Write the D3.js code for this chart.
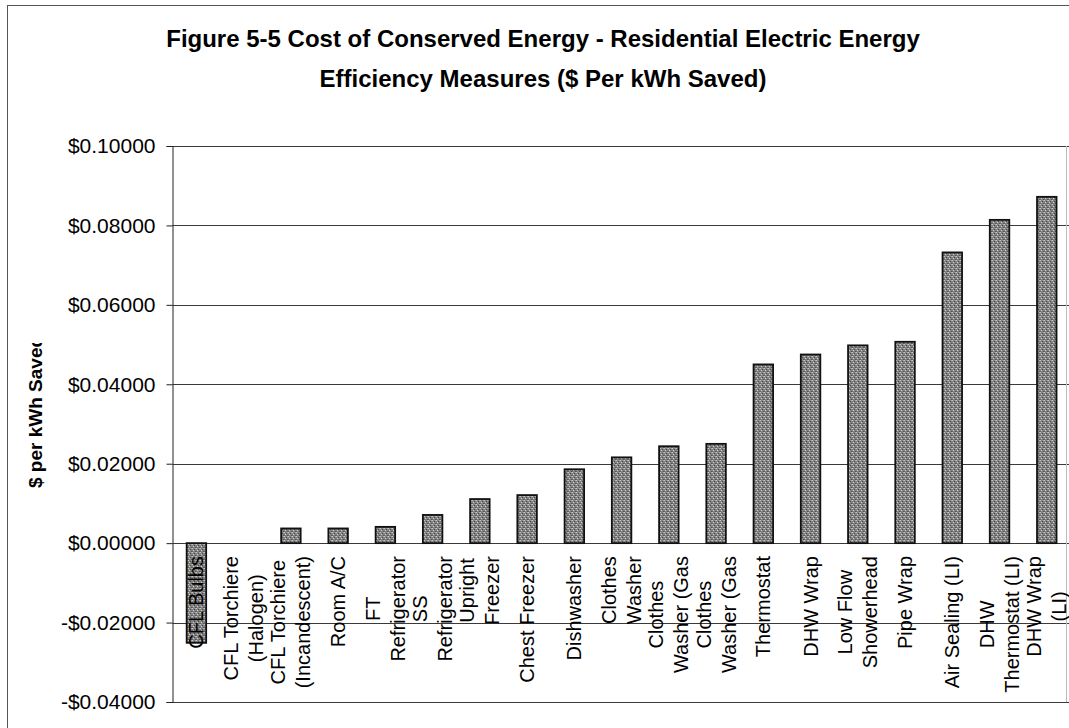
<!DOCTYPE html>
<html>
<head>
<meta charset="utf-8">
<script src="https://cdn.jsdelivr.net/npm/d3@7"></script>
<style>
  html, body { margin: 0; padding: 0; background: #fff; }
  svg { display: block; }
  text { font-family: "Liberation Sans", Arial, sans-serif; fill: #000; }
</style>
</head>
<body>
<svg id="chart" width="1069" height="728"></svg>
<script>
// Measures, each label split into the lines it wraps to
const categoryLines = [
  ["CFL Bulbs"],
  ["CFL Torchiere", "(Halogen)"],
  ["CFL Torchiere", "(Incandescent)"],
  ["Room A/C"],
  ["FT", "Refrigerator"],
  ["SS", "Refrigerator"],
  ["Upright", "Freezer"],
  ["Chest Freezer"],
  ["Dishwasher"],
  ["Clothes", "Washer"],
  ["Clothes", "Washer (Gas"],
  ["Clothes", "Washer (Gas"],
  ["Thermostat"],
  ["DHW Wrap"],
  ["Low Flow", "Showerhead"],
  ["Pipe Wrap"],
  ["Air Sealing (LI)"],
  ["DHW", "Thermostat (LI)"],
  ["DHW Wrap", "(LI)"]
];

// Cost of conserved energy, $ per kWh saved
const costPerKWh = [
  -0.0251, 0.0000, 0.0037, 0.0037, 0.0041, 0.0071, 0.0111, 0.0121, 0.0186,
  0.0216, 0.0244, 0.0250, 0.0450, 0.0475, 0.0498, 0.0507, 0.0732, 0.0814, 0.0872
];

const yTicks = [-0.04, -0.02, 0.00, 0.02, 0.04, 0.06, 0.08, 0.10];
const yTickLabels = ["-$0.04000", "-$0.02000", "$0.00000", "$0.02000", "$0.04000", "$0.06000", "$0.08000", "$0.10000"];

const titleLines = [
  "Figure 5-5 Cost of Conserved Energy - Residential Electric Energy",
  "Efficiency Measures ($ Per kWh Saved)"
];
const yAxisTitle = "$ per kWh Saved";

const svg = d3.select("#chart");

// stippled grey fill for the bars
const defs = svg.append("defs");
const pat = defs.append("pattern")
  .attr("id", "stipple")
  .attr("patternUnits", "userSpaceOnUse")
  .attr("width", 4).attr("height", 4);
pat.append("rect").attr("width", 4).attr("height", 4).attr("fill", "#828282");
const dots = [[0,0,"#c8c8c8"],[2,1,"#4c4c4c"],[1,2,"#d0d0d0"],[3,3,"#555"],[3,0,"#a8a8a8"],[0,3,"#646464"]];
pat.selectAll("rect.d").data(dots).enter().append("rect")
  .attr("class", "d")
  .attr("x", d => d[0]).attr("y", d => d[1])
  .attr("width", 1).attr("height", 1)
  .attr("fill", d => d[2]);

// chart frame
svg.append("line").attr("x1", 7.5).attr("x2", 7.5).attr("y1", 5).attr("y2", 728)
  .attr("stroke", "#555").attr("stroke-width", 1);
svg.append("line").attr("x1", 7).attr("x2", 1069).attr("y1", 5.5).attr("y2", 5.5)
  .attr("stroke", "#555").attr("stroke-width", 1);

// title
svg.append("g").selectAll("text").data(titleLines).enter().append("text")
  .attr("x", 543).attr("y", (d, i) => 47 + i * 40)
  .attr("text-anchor", "middle")
  .style("font-weight", "bold")
  .style("font-size", "24px")
  .text(d => d);

const x = d3.scaleBand()
  .domain(d3.range(categoryLines.length))
  .range([172.8, 1070.4])
  .paddingInner(0.587)
  .paddingOuter(0.2935);

const y = d3.scaleLinear().domain([-0.04, 0.10]).range([702, 146]);

// gridlines
svg.append("g").selectAll("line").data(yTicks).enter().append("line")
  .attr("x1", 172.5).attr("x2", 1069)
  .attr("y1", d => Math.round(y(d)) + 0.5).attr("y2", d => Math.round(y(d)) + 0.5)
  .attr("stroke", "#3a3a3a").attr("stroke-width", 1);

// plot area right edge
svg.append("line").attr("x1", 1066.5).attr("x2", 1066.5).attr("y1", 146).attr("y2", 702)
  .attr("stroke", "#bbb").attr("stroke-width", 1);

// bars (zero-valued measures draw nothing)
const barData = costPerKWh.map((v, i) => ({ i, v })).filter(d => d.v !== 0);
svg.append("g").selectAll("rect").data(barData).enter().append("rect")
  .attr("x", d => x(d.i))
  .attr("y", d => y(Math.max(0, d.v)))
  .attr("width", x.bandwidth())
  .attr("height", d => Math.abs(y(d.v) - y(0)))
  .attr("fill", "url(#stipple)")
  .attr("stroke", "#111")
  .attr("stroke-width", 1.8);

// y axis
const yAxis = d3.axisLeft(y)
  .tickValues(yTicks)
  .tickFormat((d, i) => yTickLabels[i])
  .tickSize(6)
  .tickPadding(11);
const gy = svg.append("g").attr("transform", "translate(172.5,0)").call(yAxis);
gy.select(".domain").attr("stroke", "#222");
gy.selectAll(".tick line").attr("stroke", "#222");
gy.selectAll(".tick text")
  .style("font-size", "21px")
  .style("font-family", "'Liberation Sans', Arial, sans-serif")
  .attr("fill", "#000");

// y axis title, clipped at the top of its box
defs.append("clipPath").attr("id", "ytclip")
  .append("rect").attr("x", 0).attr("y", 343).attr("width", 80).attr("height", 220);
svg.append("g").attr("clip-path", "url(#ytclip)")
  .append("text")
  .attr("transform", "translate(42,488) rotate(-90)")
  .attr("text-anchor", "start")
  .style("font-weight", "bold")
  .style("font-size", "19px")
  .text(yAxisTitle);

// category labels, rotated and wrapped
const lineGap = 25;
const labelTop = 556;
const gl = svg.append("g");
categoryLines.forEach((lines, i) => {
  const cx = x(i) + x.bandwidth() / 2;
  const g = gl.append("g");
  const texts = g.selectAll("text").data(lines).enter().append("text")
    .style("font-size", "20px")
    .attr("text-anchor", "middle")
    .attr("dominant-baseline", "central")
    .text(d => d);
  const lens = [];
  texts.each(function() { lens.push(this.getComputedTextLength()); });
  const maxLen = d3.max(lens);
  const yc = labelTop + maxLen / 2;
  const n = lines.length;
  texts.attr("transform", (d, k) => {
    const lx = cx + (k - (n - 1) / 2) * lineGap;
    return `translate(${lx},${yc}) rotate(-90)`;
  });
});
</script>
</body>
</html>
